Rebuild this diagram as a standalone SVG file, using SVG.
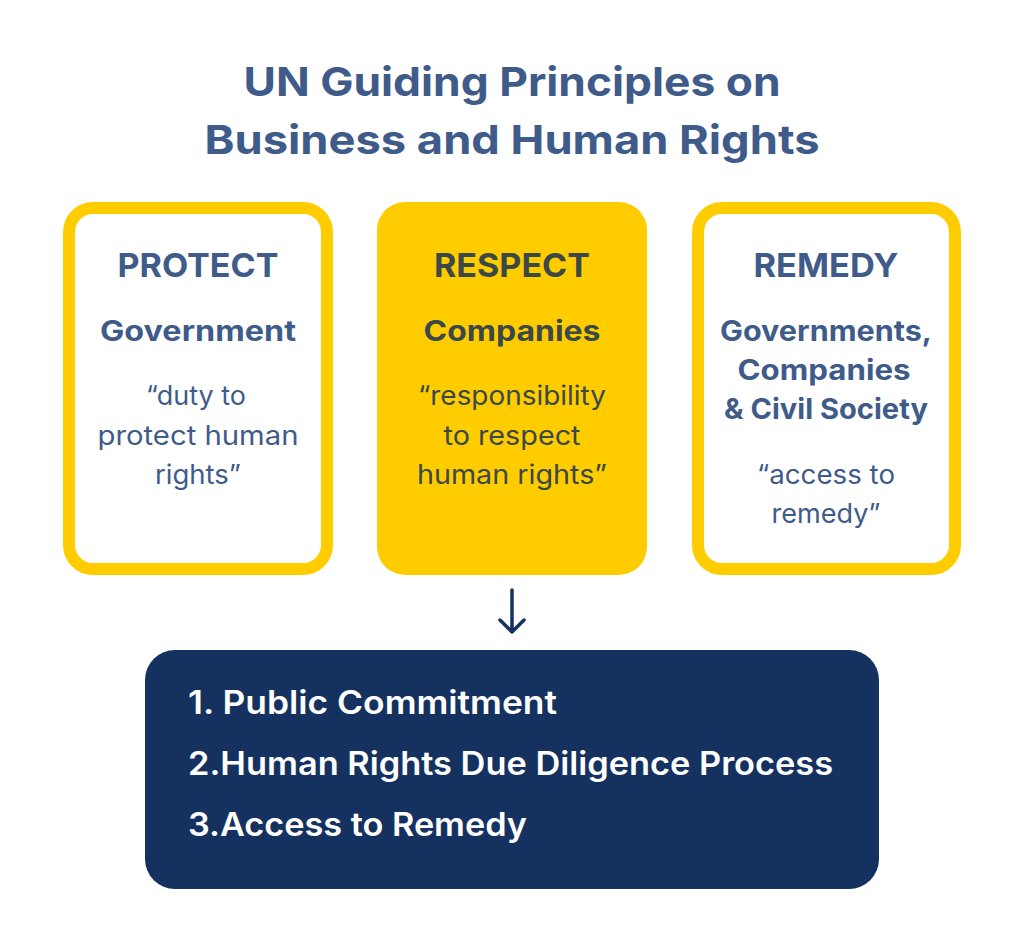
<svg xmlns="http://www.w3.org/2000/svg" width="1024" height="952" viewBox="0 0 1024 952">
<defs>
<style>
.t{font-family:Inter,"Open Sans","Liberation Sans",sans-serif;text-anchor:middle}
.title{font-size:40px;font-weight:700;fill:#3F5B8A}
.h{font-size:33px;font-weight:700}
.s{font-size:28px;font-weight:700}
.q{font-size:26.5px;font-weight:400}
.blue{fill:#3F5B8A}
.grey{fill:#3A4848}
.li{font-family:Inter,"Open Sans","Liberation Sans",sans-serif;font-size:32px;font-weight:600;fill:#FFFFFF}
.frame{fill:#FFFFFF;stroke:#FFCC00;stroke-width:12}
</style>
</defs>
<rect width="1024" height="952" fill="#FFFFFF"/>
<g id="title">
<text class="t title" x="512" y="96" textLength="537" lengthAdjust="spacingAndGlyphs">UN Guiding Principles on</text>
<text class="t title" x="512" y="154" textLength="615" lengthAdjust="spacingAndGlyphs">Business and Human Rights</text>
</g>
<g id="protect">
<rect class="frame" x="69" y="208" width="258" height="361" rx="24"/>
<text class="t h blue" x="198" y="277" textLength="161" lengthAdjust="spacingAndGlyphs">PROTECT</text>
<text class="t s blue" x="198" y="341" textLength="196" lengthAdjust="spacingAndGlyphs">Government</text>
<text class="t q blue" x="196" y="405" textLength="100" lengthAdjust="spacingAndGlyphs">“duty to</text>
<text class="t q blue" x="198" y="445" textLength="201" lengthAdjust="spacingAndGlyphs">protect human</text>
<text class="t q blue" x="198" y="484" textLength="86" lengthAdjust="spacingAndGlyphs">rights”</text>
</g>
<g id="respect">
<rect x="377" y="202" width="270" height="373" rx="28" fill="#FFCC00"/>
<text class="t h grey" x="512" y="277" textLength="156" lengthAdjust="spacingAndGlyphs">RESPECT</text>
<text class="t s grey" x="512" y="341" textLength="177" lengthAdjust="spacingAndGlyphs">Companies</text>
<text class="t q grey" x="512" y="405" textLength="188" lengthAdjust="spacingAndGlyphs">“responsibility</text>
<text class="t q grey" x="512" y="445" textLength="137" lengthAdjust="spacingAndGlyphs">to respect</text>
<text class="t q grey" x="512" y="484" textLength="190" lengthAdjust="spacingAndGlyphs">human rights”</text>
</g>
<g id="remedy">
<rect class="frame" x="698" y="208" width="257" height="361" rx="24"/>
<text class="t h blue" x="826" y="277" textLength="145" lengthAdjust="spacingAndGlyphs">REMEDY</text>
<text class="t s blue" x="826" y="341" textLength="212" lengthAdjust="spacingAndGlyphs">Governments,</text>
<text class="t s blue" x="824" y="380" textLength="173" lengthAdjust="spacingAndGlyphs">Companies</text>
<text class="t s blue" x="826" y="419" textLength="204" lengthAdjust="spacingAndGlyphs">&amp; Civil Society</text>
<text class="t q blue" x="826" y="484" textLength="138" lengthAdjust="spacingAndGlyphs">“access to</text>
<text class="t q blue" x="826" y="523" textLength="109" lengthAdjust="spacingAndGlyphs">remedy”</text>
</g>
<g id="connectors">
<path d="M512 590 V632 M500 620 L512 632 L524 620" fill="none" stroke="#143160" stroke-width="3.5" stroke-linecap="round" stroke-linejoin="round"/>
</g>
<g id="steps">
<rect x="145" y="650" width="734" height="239" rx="30" fill="#143160"/>
<text class="li" x="188" y="714" textLength="369" lengthAdjust="spacingAndGlyphs">1.  Public Commitment</text>
<text class="li" x="188" y="775" textLength="645" lengthAdjust="spacingAndGlyphs">2.Human Rights Due Diligence Process</text>
<text class="li" x="188" y="836" textLength="339" lengthAdjust="spacingAndGlyphs">3.Access to Remedy</text>
</g>
</svg>
